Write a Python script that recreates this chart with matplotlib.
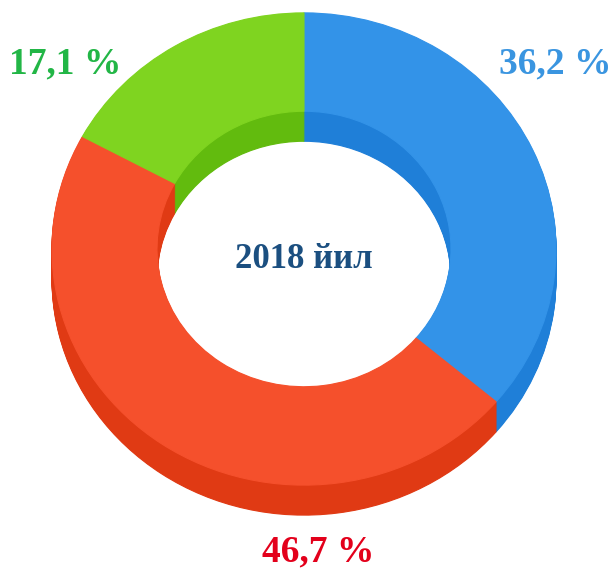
import numpy as np
import matplotlib
matplotlib.use("Agg")
import matplotlib.pyplot as plt
from matplotlib.patches import Wedge
from matplotlib.transforms import Affine2D

# данные
labels = ["36,2 %", "46,7 %", "17,1 %"]
shares = [36.2, 46.7, 17.1]
top_colors = ["#3393e8", "#f5502c", "#7fd420"]
side_colors = ["#1f7fd8", "#e03a14", "#62bb0e"]
text_colors = ["#3a95e0", "#e3001b", "#22b646"]
center_title = "2018 йил"

W, H = 612, 571
cx, cy = 304, H - 249          # центр верхней грани
rx, r_in = 252, 147            # внешний и внутренний радиусы
squash = 0.937                 # наклон (эллипс)
depth = 30                     # толщина кольца

fig = plt.figure(figsize=(W / 100, H / 100), dpi=100)
ax = fig.add_axes([0, 0, 1, 1])
ax.set_xlim(0, W)
ax.set_ylim(0, H)
ax.axis("off")

# углы сегментов, по часовой стрелке от 12 часов
ends = 90 - np.cumsum(shares) * 3.6
starts = np.concatenate([[90], ends[:-1]])


def ring(t1, t2, color, shift):
    tr = Affine2D().scale(1, squash).translate(cx, cy - shift) + ax.transData
    w = Wedge((0, 0), rx, t1, t2, width=rx - r_in, facecolor=color,
              edgecolor=color, linewidth=0.8, transform=tr)
    ax.add_patch(w)


# боковые стенки - стопка тёмных колец
for s in np.linspace(depth, 1, 30):
    for t_start, t_end, c in zip(starts, ends, side_colors):
        ring(t_end, t_start, c, s)

# верхняя грань
for t_start, t_end, c in zip(starts, ends, top_colors):
    ring(t_end, t_start, c, 0)

font = dict(family="Liberation Serif", fontweight="bold", fontsize=27)
label_pos = [(555, 64), (318, 552), (65, 64)]
for txt, (x, y), c in zip(labels, label_pos, text_colors):
    ax.text(x, H - y, txt, color=c, ha="center", va="center", **font)

ax.text(cx, H - 259, center_title, color="#1b4f80", ha="center", va="center",
        family="Liberation Serif", fontweight="bold", fontsize=25)

fig.savefig("out.png", dpi=100)
